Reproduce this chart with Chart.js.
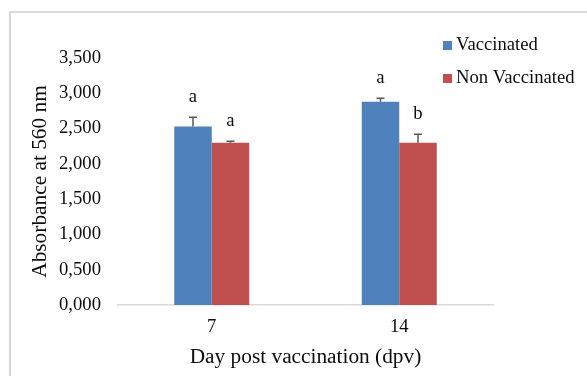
<!DOCTYPE html>
<html>
<head>
<meta charset="utf-8">
<script src="https://cdn.jsdelivr.net/npm/chart.js@4"></script>
<style>
  body { margin: 0; background: #fff; }
  #wrap { position: relative; width: 587px; height: 376px; overflow: hidden; }
  #frame { position: absolute; left: 9px; top: 11px; width: 700px; height: 500px;
           border-left: 2px solid #d9d9d9; border-top: 2px solid #d9d9d9; }
  #myChart { position: absolute; left: 0; top: 0; }
</style>
</head>
<body>
<div id="wrap">
  <div id="frame"></div>
  <canvas id="myChart" width="587" height="376"></canvas>
</div>
<script>
var days = ['7', '14'];
var seriesNames = ['Vaccinated', 'Non Vaccinated'];
var vaccinated = [2.53, 2.88];
var nonVaccinated = [2.30, 2.30];
var vaccinatedErr = [0.13, 0.05];
var nonVaccinatedErr = [0.02, 0.12];
var vaccinatedLetters = ['a', 'a'];
var nonVaccinatedLetters = ['a', 'b'];
var xTitle = 'Day post vaccination (dpv)';
var yTitle = 'Absorbance at 560 nm';

var FONT = '"Liberation Serif", "Times New Roman", serif';
var FONT_SIZE = 18.67;
var TITLE_SIZE = 21.33;
var TEXT = '#0d0d0d';
var chart;

// error bars (upward only) and significance letters
var errorBarPlugin = {
	id: 'errorBars',
	afterDatasetsDraw: function(c) {
		var ctx = c.ctx;
		var y = c.scales.y;
		ctx.save();
		c.data.datasets.forEach(function(ds, di) {
			var meta = c.getDatasetMeta(di);
			meta.data.forEach(function(bar, i) {
				var top = y.getPixelForValue(ds.data[i] + ds.errors[i]);
				ctx.strokeStyle = '#595959';
				ctx.lineWidth = 1.5;
				ctx.beginPath();
				ctx.moveTo(bar.x, bar.y);
				ctx.lineTo(bar.x, top);
				ctx.moveTo(bar.x - 4, top);
				ctx.lineTo(bar.x + 4, top);
				ctx.stroke();

				ctx.fillStyle = TEXT;
				ctx.font = FONT_SIZE + 'px ' + FONT;
				ctx.textAlign = 'center';
				ctx.textBaseline = 'alphabetic';
				ctx.fillText(ds.letters[i], bar.x, top - 15);
			});
		});
		ctx.restore();
	}
};

// legend sits over the top right corner of the plot, like Excel put it
var legendPlugin = {
	id: 'cornerLegend',
	afterDraw: function(c) {
		var ctx = c.ctx;
		ctx.save();
		ctx.font = FONT_SIZE + 'px ' + FONT;
		ctx.textBaseline = 'middle';
		ctx.textAlign = 'left';
		c.data.datasets.forEach(function(ds, di) {
			var ly = 45 + di * 33;
			ctx.fillStyle = ds.backgroundColor;
			ctx.fillRect(443, ly - 4, 9, 9);
			ctx.fillStyle = TEXT;
			ctx.fillText(ds.label, 456, ly);
		});
		ctx.restore();
	}
};

window.onload = function() {
	var ctx = document.getElementById('myChart').getContext('2d');
	chart = new Chart(ctx, {
		type: 'bar',
		data: {
			labels: days,
			datasets: [{
				label: seriesNames[0],
				data: vaccinated,
				errors: vaccinatedErr,
				letters: vaccinatedLetters,
				backgroundColor: '#4f81bd'
			}, {
				label: seriesNames[1],
				data: nonVaccinated,
				errors: nonVaccinatedErr,
				letters: nonVaccinatedLetters,
				backgroundColor: '#c0504d'
			}]
		},
		options: {
			responsive: false,
			animation: false,
			devicePixelRatio: 1,
			categoryPercentage: 0.4,
			barPercentage: 1.0,
			layout: { padding: { top: 58, right: 94, left: 0, bottom: 0 } },
			plugins: {
				legend: { display: false },
				tooltip: { enabled: false }
			},
			scales: {
				x: {
					grid: { display: false, drawTicks: false },
					border: { display: true, color: '#d9d9d9', width: 1.5 },
					ticks: { color: TEXT, padding: 11, font: { family: FONT, size: FONT_SIZE } },
					title: {
						display: true,
						text: xTitle,
						color: TEXT,
						font: { family: FONT, size: TITLE_SIZE },
						padding: { top: 0, bottom: 6 }
					},
					afterFit: function(s) { s.height = 71; }
				},
				y: {
					min: 0,
					max: 3.5,
					grid: { display: false, drawTicks: false },
					border: { display: false },
					ticks: {
						stepSize: 0.5,
						color: TEXT,
						padding: 17,
						font: { family: FONT, size: FONT_SIZE },
						callback: function(v) { return v.toFixed(3).replace('.', ','); }
					},
					title: {
						display: true,
						text: yTitle,
						color: TEXT,
						font: { family: FONT, size: TITLE_SIZE },
						padding: { top: 28, bottom: 0 }
					},
					afterFit: function(s) { s.width = 118; }
				}
			}
		},
		plugins: [errorBarPlugin, legendPlugin]
	});
};
</script>
</body>
</html>
